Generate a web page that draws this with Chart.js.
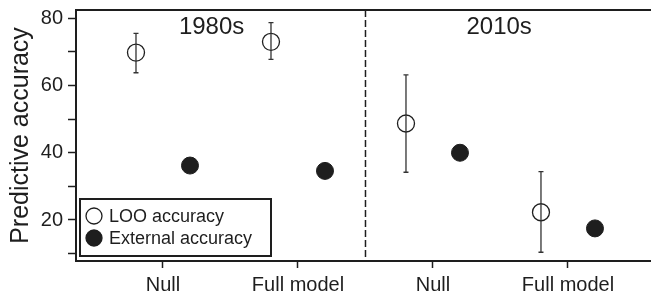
<!DOCTYPE html>
<html>
<head>
<meta charset="utf-8">
<script src="https://cdn.jsdelivr.net/npm/chart.js@4"></script>
<style>
  html, body { margin: 0; padding: 0; background: #fff; }
  #wrap { width: 651px; height: 296px; }
</style>
</head>
<body>
<div id="wrap"><canvas id="chart" width="651" height="296"></canvas></div>
<script>
const categories = ["Null", "Full model", "Null", "Full model"];
const periods = ["1980s", "2010s"];
const looAccuracy = [69.8, 73.0, 48.7, 22.3];
const looLow = [63.8, 67.8, 34.2, 10.4];
const looHigh = [75.5, 78.7, 63.2, 34.4];
const externalAccuracy = [36.2, 34.6, 40.0, 17.5];
const yTicks = [10, 20, 30, 40, 50, 60, 70, 80];
const yTickLabels = [20, 40, 60, 80];

const FONT = "'Liberation Sans', Arial, Helvetica, sans-serif";
const INK = "#1e1e1e";

// points sit a little left/right of each category tick
const looPoints = looAccuracy.map((v, i) => ({ x: i + 1 - 0.2, y: v }));
const extPoints = externalAccuracy.map((v, i) => ({ x: i + 1 + 0.2, y: v }));

const framePlugin = {
  id: "frame",
  afterDatasetsDraw(chart) {
    const { ctx, chartArea: a, scales: { x, y } } = chart;
    ctx.save();
    // top border
    ctx.strokeStyle = INK;
    ctx.lineWidth = 2;
    ctx.beginPath();
    ctx.moveTo(a.left, a.top);
    ctx.lineTo(a.right, a.top);
    ctx.stroke();

    // divider between decades
    const xd = x.getPixelForValue(2.5);
    ctx.lineWidth = 1.5;
    ctx.setLineDash([7, 3]);
    ctx.beginPath();
    ctx.moveTo(xd, a.top);
    ctx.lineTo(xd, a.bottom);
    ctx.stroke();
    ctx.setLineDash([]);

    // error bars for LOO accuracy
    ctx.strokeStyle = "#333";
    ctx.lineWidth = 1.3;
    looPoints.forEach((p, i) => {
      const px = x.getPixelForValue(p.x);
      const lo = y.getPixelForValue(looLow[i]);
      const hi = y.getPixelForValue(looHigh[i]);
      ctx.beginPath();
      ctx.moveTo(px, lo); ctx.lineTo(px, hi);
      ctx.moveTo(px - 2.5, lo); ctx.lineTo(px + 2.5, lo);
      ctx.moveTo(px - 2.5, hi); ctx.lineTo(px + 2.5, hi);
      ctx.stroke();
    });

    // decade labels
    ctx.fillStyle = INK;
    ctx.font = "24px " + FONT;
    ctx.textAlign = "center";
    ctx.textBaseline = "middle";
    ctx.fillText(periods[0], x.getPixelForValue(1.36), a.top + 17);
    ctx.fillText(periods[1], x.getPixelForValue(3.49), a.top + 17);

    // legend box, bottom left inside the plot
    const lx = a.left + 4, lw = 191, lh = 57, ly = a.bottom - 5 - lh;
    ctx.fillStyle = "#fff";
    ctx.fillRect(lx, ly, lw, lh);
    ctx.strokeStyle = INK;
    ctx.lineWidth = 2;
    ctx.strokeRect(lx, ly, lw, lh);
    ctx.font = "18px " + FONT;
    ctx.textAlign = "left";
    chart.data.datasets.forEach((ds, i) => {
      const cy = ly + 17 + i * 22;
      ctx.beginPath();
      ctx.arc(lx + 14, cy, 8, 0, Math.PI * 2);
      ctx.fillStyle = ds.backgroundColor;
      ctx.fill();
      ctx.strokeStyle = ds.borderColor;
      ctx.lineWidth = 1.3;
      ctx.stroke();
      ctx.fillStyle = INK;
      ctx.fillText(ds.label, lx + 29, cy + 1);
    });
    ctx.restore();
  }
};

new Chart(document.getElementById("chart").getContext("2d"), {
  type: "scatter",
  data: {
    datasets: [
      {
        label: "LOO accuracy",
        data: looPoints,
        backgroundColor: "#ffffff",
        borderColor: INK,
        borderWidth: 1.3,
        pointRadius: 8.5,
        pointHoverRadius: 8.5,
      },
      {
        label: "External accuracy",
        data: extPoints,
        backgroundColor: INK,
        borderColor: INK,
        borderWidth: 1,
        pointRadius: 8.5,
        pointHoverRadius: 8.5,
      },
    ],
  },
  options: {
    responsive: false,
    animation: false,
    events: [],
    layout: { autoPadding: false, padding: { top: 10, right: 0, bottom: 0, left: 0 } },
    plugins: {
      legend: { display: false },
      tooltip: { enabled: false },
    },
    scales: {
      x: {
        type: "linear",
        min: 0.3556,
        max: 4.615,
        afterBuildTicks: (s) => { s.ticks = categories.map((c, i) => ({ value: i + 1 })); },
        afterFit: (s) => { s.height = 35; s.paddingLeft = 0; s.paddingRight = 0; },
        ticks: {
          callback: (v) => categories[v - 1],
          color: INK,
          padding: 5,
          maxRotation: 0,
          autoSkip: false,
          font: { family: FONT, size: 20 },
        },
        grid: { drawOnChartArea: false, drawTicks: true, tickLength: 7, color: INK, tickWidth: 1.5 },
        border: { display: true, color: INK, width: 2 },
      },
      y: {
        min: 7.8,
        max: 82.47,
        afterBuildTicks: (s) => { s.ticks = yTicks.map((v) => ({ value: v })); },
        afterFit: (s) => { s.width = 76; s.paddingTop = 0; s.paddingBottom = 0; },
        ticks: {
          callback: (v) => (yTickLabels.includes(v) ? String(v) : ""),
          color: INK,
          padding: 5,
          autoSkip: false,
          font: { family: FONT, size: 20 },
        },
        grid: { drawOnChartArea: false, drawTicks: true, tickLength: 8, color: INK, tickWidth: 1.5 },
        border: { display: true, color: INK, width: 2 },
        title: {
          display: true,
          text: "Predictive accuracy",
          color: INK,
          font: { family: FONT, size: 25 },
          padding: { top: 6, bottom: 0 },
        },
      },
    },
  },
  plugins: [framePlugin],
});
</script>
</body>
</html>
